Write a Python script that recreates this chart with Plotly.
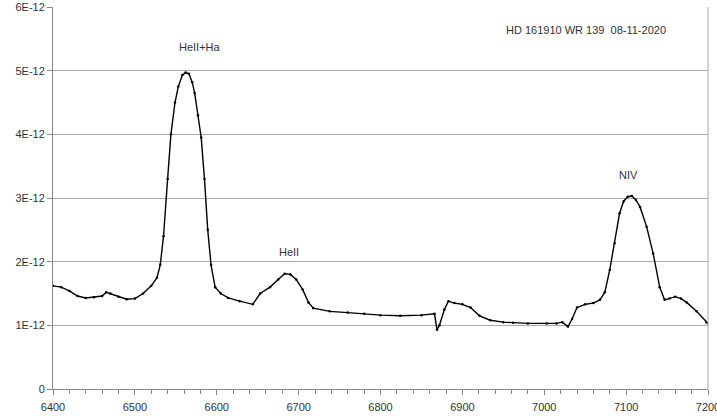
import plotly.graph_objects as go

wavelength = [6400, 6410, 6420, 6430, 6440, 6450, 6460, 6465, 6470, 6480, 6490, 6500, 6510, 6520,
              6527, 6531, 6535, 6540, 6544, 6549, 6553, 6558, 6562, 6566, 6570, 6573, 6577, 6581,
              6585, 6589, 6593, 6598, 6605, 6614, 6628, 6644, 6653, 6665, 6675, 6683, 6690, 6697,
              6705, 6712, 6718, 6738, 6760, 6780, 6800, 6824, 6850, 6866, 6869, 6872, 6878, 6883,
              6890, 6900, 6910, 6921, 6934, 6950, 6962, 6980, 7003, 7015, 7022, 7029, 7034, 7040,
              7050, 7060, 7068, 7074, 7080, 7086, 7092, 7097, 7102, 7107, 7112, 7117, 7125, 7133,
              7141, 7147, 7153, 7160, 7167, 7174, 7186, 7198, 7200]
flux_e12 = [1.62, 1.60, 1.54, 1.46, 1.43, 1.44, 1.46, 1.52, 1.50, 1.45, 1.41, 1.42, 1.50, 1.62,
            1.75, 1.95, 2.40, 3.30, 4.00, 4.50, 4.75, 4.93, 4.97, 4.95, 4.82, 4.65, 4.30, 3.95,
            3.30, 2.50, 1.95, 1.60, 1.50, 1.43, 1.38, 1.33, 1.50, 1.60, 1.72, 1.81, 1.80, 1.72,
            1.56, 1.36, 1.27, 1.22, 1.20, 1.18, 1.16, 1.15, 1.16, 1.18, 0.93, 1.00, 1.25, 1.38,
            1.35, 1.33, 1.28, 1.15, 1.08, 1.05, 1.04, 1.03, 1.03, 1.03, 1.05, 0.98, 1.10, 1.28,
            1.33, 1.35, 1.40, 1.52, 1.87, 2.29, 2.76, 2.95, 3.02, 3.03, 2.97, 2.86, 2.55, 2.13,
            1.60, 1.40, 1.42, 1.45, 1.42, 1.36, 1.22, 1.05, 1.03]
flux = [v * 1e-12 for v in flux_e12]

y_tickvals = [0, 1e-12, 2e-12, 3e-12, 4e-12, 5e-12, 6e-12]
y_ticktext = ["0", "1E-12", "2E-12", "3E-12", "4E-12", "5E-12", "6E-12"]
x_tickvals = [6400, 6500, 6600, 6700, 6800, 6900, 7000, 7100, 7200]

labels = [("HeII+Ha", 6579, 5.37e-12), ("HeII", 6688, 2.15e-12), ("NIV", 7103, 3.36e-12),
          ("HD 161910 WR 139  08-11-2020", 7051, 5.64e-12)]

font = "Liberation Sans, Arial, sans-serif"
fig = go.Figure()
fig.add_trace(go.Scatter(x=wavelength, y=flux, mode="lines+markers",
                         line=dict(color="black", width=1.4),
                         marker=dict(color="black", size=2.5), showlegend=False))

for txt, x, y in labels:
    fig.add_annotation(x=x, y=y, text=txt, showarrow=False,
                       font=dict(family=font, size=11, color="#333333"))

fig.update_layout(
    width=717, height=416,
    margin=dict(l=53, r=9, t=7, b=27, autoexpand=False),
    paper_bgcolor="white", plot_bgcolor="white",
    font=dict(family=font, size=11, color="#333333"),
    xaxis=dict(range=[6400, 7200], tickvals=x_tickvals, ticks="outside", ticklen=5,
               tickcolor="#888888", showgrid=False, showline=True, linecolor="#888888",
               mirror=False, zeroline=False, automargin=False, ticklabelstandoff=3,
               ticklabeloverflow="allow",
               minor=dict(dtick=20, ticks="outside", ticklen=4, tickcolor="#888888", showgrid=False)),
    yaxis=dict(range=[0, 6e-12], tickvals=y_tickvals, ticktext=y_ticktext, ticks="outside",
               ticklen=5, tickcolor="#888888", showgrid=True, gridcolor="#aaaaaa", gridwidth=1,
               showline=True, linecolor="#888888", zeroline=False, automargin=False,
               ticklabeloverflow="allow"),
)
# right border
fig.add_shape(type="line", xref="paper", yref="paper", x0=1, x1=1, y0=0, y1=1,
              line=dict(color="#aaaaaa", width=1))
fig.write_html("out.html", config={"displayModeBar": False},
               post_script="document.body.style.margin='0';")
